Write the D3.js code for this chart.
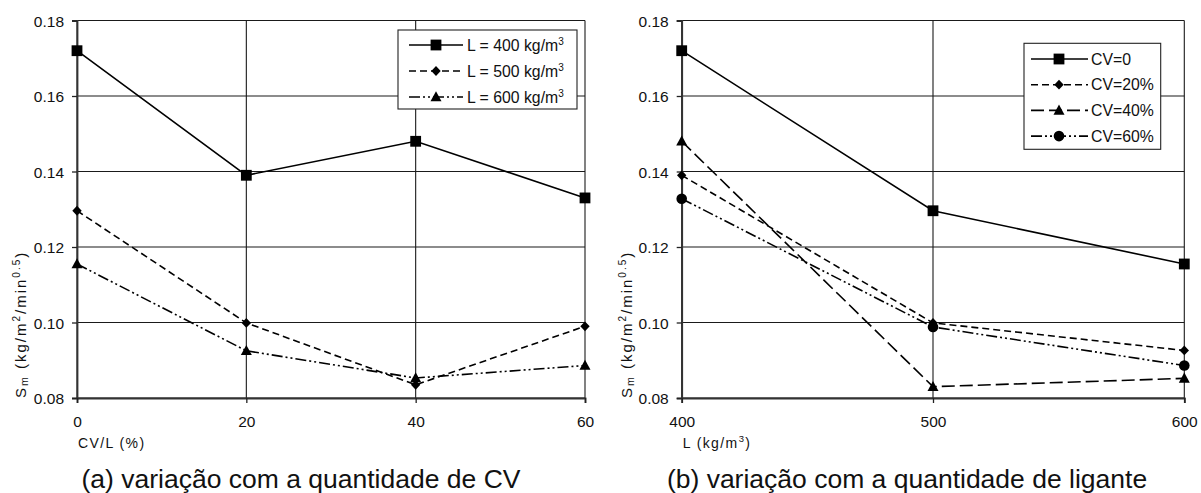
<!DOCTYPE html>
<html>
<head>
<meta charset="utf-8">
<script src="https://cdn.jsdelivr.net/npm/d3@7"></script>
<style>
  html, body { margin: 0; padding: 0; background: #fff; }
  svg { display: block; font-family: "Liberation Sans", Arial, sans-serif; }
</style>
</head>
<body>
<svg id="chart" width="1201" height="493"></svg>
<script>
// ---------- data ----------
const cvLevels = [0, 20, 40, 60];
const lLevels = [400, 500, 600];
const yTicks = [0.08, 0.10, 0.12, 0.14, 0.16, 0.18];

// panel (a): series per binder content L
const l400 = [0.172, 0.139, 0.148, 0.133];
const l500 = [0.1296, 0.0999, 0.0835, 0.099];
const l600 = [0.1155, 0.0925, 0.0853, 0.0886];
const seriesNamesA = ["L = 400 kg/m", "L = 500 kg/m", "L = 600 kg/m"];

// panel (b): series per CV percentage
const cv0 = [0.172, 0.1296, 0.1155];
const cv20 = [0.139, 0.0999, 0.0926];
const cv40 = [0.148, 0.083, 0.0852];
const cv60 = [0.1328, 0.0988, 0.0886];
const seriesNamesB = ["CV=0", "CV=20%", "CV=40%", "CV=60%"];

const captionA = "(a) variação com a quantidade de CV";
const captionB = "(b) variação com a quantidade de ligante";

// ---------- styles ----------
const DASH = {
  solid: null,
  dash: "7,4",
  longdash: "13,5",
  dashdotdot: "11,3,2,3,2,3"
};

const svg = d3.select("#chart");
const FONT = "'Liberation Sans', Arial, sans-serif";

function marker(g, type, x, y) {
  if (type === "square") {
    g.append("rect").attr("x", x - 5.4).attr("y", y - 5.4).attr("width", 10.8).attr("height", 10.8).attr("fill", "#000");
  } else if (type === "diamond") {
    g.append("path").attr("d", `M${x},${y-4.9}L${x+4.7},${y}L${x},${y+4.9}L${x-4.7},${y}Z`).attr("fill", "#000");
  } else if (type === "triangle") {
    g.append("path").attr("d", `M${x},${y-5.8}L${x+5.5},${y+4.3}L${x-5.5},${y+4.3}Z`).attr("fill", "#000");
  } else if (type === "circle") {
    g.append("circle").attr("cx", x).attr("cy", y).attr("r", 5.3).attr("fill", "#000");
  }
}

function panel(cfg) {
  const g = svg.append("g");
  const x = d3.scaleLinear().domain(cfg.xDomain).range(cfg.xRange);
  const y = d3.scaleLinear().domain([0.08, 0.18]).range([398, 20.5]);
  const [x0, x1] = cfg.xRange;

  // grid horizontal
  g.append("g").selectAll("line").data(yTicks).join("line")
    .attr("x1", x0).attr("x2", x1)
    .attr("y1", d => y(d)).attr("y2", d => y(d))
    .attr("stroke", "#1a1a1a").attr("stroke-width", 1.1);
  // grid vertical
  g.append("g").selectAll("line").data(cfg.xTicks).join("line")
    .attr("x1", d => x(d)).attr("x2", d => x(d))
    .attr("y1", y(0.18)).attr("y2", y(0.08))
    .attr("stroke", "#1a1a1a").attr("stroke-width", 1.1);

  // axes
  const yAxis = d3.axisLeft(y).tickValues(yTicks).tickSize(5).tickPadding(8).tickFormat(d3.format(".2f"));
  const ya = g.append("g").attr("transform", `translate(${x0},0)`).call(yAxis);
  ya.select(".domain").attr("stroke", "#333").attr("stroke-width", 1.8);
  ya.selectAll(".tick line").attr("stroke", "#222").attr("stroke-width", 1.3);
  ya.selectAll("text").attr("font-size", 15.5).attr("font-family", FONT).attr("fill", "#111").attr("dy", "0.36em");

  const xAxis = d3.axisBottom(x).tickValues(cfg.xTicks).tickSize(5).tickPadding(13).tickFormat(d3.format("d"));
  const xa = g.append("g").attr("transform", `translate(0,${y(0.08)})`).call(xAxis);
  xa.select(".domain").attr("stroke", "#333").attr("stroke-width", 1.8);
  xa.selectAll(".tick line").attr("stroke", "#222").attr("stroke-width", 1.3);
  xa.selectAll("text").attr("font-size", 15.5).attr("font-family", FONT).attr("fill", "#111");

  // series
  cfg.series.forEach((s, i) => {
    const pts = cfg.xTicks.map((xv, j) => [x(xv), y(s.values[j])]);
    g.append("path")
      .attr("d", d3.line()(pts))
      .attr("fill", "none").attr("stroke", "#000").attr("stroke-width", 1.6)
      .attr("stroke-dasharray", DASH[s.dash]);
    pts.forEach(p => marker(g, s.marker, p[0], p[1]));
  });

  // legend
  const L = cfg.legend;
  const lg = g.append("g");
  lg.append("rect").attr("x", L.x).attr("y", L.y).attr("width", L.w).attr("height", L.h)
    .attr("fill", "#fff").attr("stroke", "#222").attr("stroke-width", 1.1);
  cfg.series.forEach((s, i) => {
    const cy = L.y0 + i * L.dy;
    lg.append("line").attr("x1", L.lx0).attr("x2", L.lx1).attr("y1", cy).attr("y2", cy)
      .attr("stroke", "#000").attr("stroke-width", 1.6).attr("stroke-dasharray", DASH[s.dash]);
    marker(lg, s.marker, L.mx, cy);
    const t = lg.append("text").attr("x", L.tx).attr("y", cy + 5.5)
      .attr("font-size", 15.8).attr("font-family", FONT).attr("fill", "#111").text(s.name);
    if (cfg.legendSup) {
      t.append("tspan").attr("dy", -6).attr("font-size", 10).text("3");
    }
  });

  // y title
  const yt = g.append("text")
    .attr("transform", `translate(${cfg.yTitleX},398) rotate(-90)`)
    .attr("font-size", 15).attr("font-family", FONT).attr("fill", "#111")
    .attr("letter-spacing", 2);
  yt.append("tspan").text("S");
  yt.append("tspan").attr("font-size", 10.5).attr("dy", 2).text("m");
  yt.append("tspan").attr("dy", -2).text(" (kg/m");
  yt.append("tspan").attr("font-size", 10).attr("dy", -6).text("2");
  yt.append("tspan").attr("dy", 6).text("/min");
  yt.append("tspan").attr("font-size", 10).attr("dy", -6).text("0.5");
  yt.append("tspan").attr("dy", 6).text(")");

  // x title
  const xt = g.append("text").attr("x", x0 + 1).attr("y", 448)
    .attr("font-size", 14).attr("font-family", FONT).attr("fill", "#111").attr("letter-spacing", 1.4);
  cfg.xTitle(xt);

  // caption
  g.append("text").attr("x", cfg.captionX).attr("y", 488).attr("text-anchor", "middle")
    .attr("font-size", 26.5).attr("font-family", FONT).attr("fill", "#111").text(cfg.caption);
}

panel({
  xDomain: [0, 60], xRange: [77, 585], xTicks: cvLevels,
  series: [
    { name: seriesNamesA[0], values: l400, dash: "solid", marker: "square" },
    { name: seriesNamesA[1], values: l500, dash: "dash", marker: "diamond" },
    { name: seriesNamesA[2], values: l600, dash: "dashdotdot", marker: "triangle" }
  ],
  legend: { x: 398, y: 30, w: 179, h: 79, y0: 45, dy: 26, lx0: 409, lx1: 463, mx: 436, tx: 467 },
  legendSup: true,
  yTitleX: 26,
  xTitle: t => t.text("CV/L (%)"),
  caption: captionA, captionX: 301
});

panel({
  xDomain: [400, 600], xRange: [681.7, 1184.3], xTicks: lLevels,
  series: [
    { name: seriesNamesB[0], values: cv0, dash: "solid", marker: "square" },
    { name: seriesNamesB[1], values: cv20, dash: "dash", marker: "diamond" },
    { name: seriesNamesB[2], values: cv40, dash: "longdash", marker: "triangle" },
    { name: seriesNamesB[3], values: cv60, dash: "dashdotdot", marker: "circle" }
  ],
  legend: { x: 1024, y: 43.3, w: 136.7, h: 106, y0: 59, dy: 25.7, lx0: 1031, lx1: 1088, mx: 1059, tx: 1091 },
  legendSup: false,
  yTitleX: 632,
  xTitle: t => {
    t.append("tspan").text("L (kg/m");
    t.append("tspan").attr("font-size", 9.5).attr("dy", -6).text("3");
    t.append("tspan").attr("dy", 6).text(")");
  },
  caption: captionB, captionX: 907
});
</script>
</body>
</html>
